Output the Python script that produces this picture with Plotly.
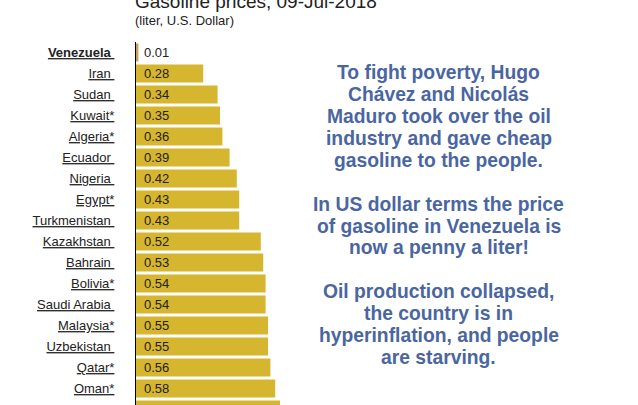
import plotly.graph_objects as go

countries = ["Venezuela", "Iran", "Sudan", "Kuwait*", "Algeria*", "Ecuador", "Nigeria",
             "Egypt*", "Turkmenistan", "Kazakhstan", "Bahrain", "Bolivia*", "Saudi Arabia",
             "Malaysia*", "Uzbekistan", "Qatar*", "Oman*", "Angola"]
prices = [0.01, 0.28, 0.34, 0.35, 0.36, 0.39, 0.42, 0.43, 0.43, 0.52, 0.53, 0.54, 0.54,
          0.55, 0.55, 0.56, 0.58, 0.60]
value_labels = ["%.2f" % v for v in prices]
highlight = "Venezuela"

title_text = "Gasoline prices, 09-Jul-2018"
subtitle_text = "(liter, U.S. Dollar)"
note_lines = ["To fight poverty, Hugo", "Chávez and Nicolás", "Maduro took over the oil",
              "industry and gave cheap", "gasoline to the people.", "",
              "In US dollar terms the price", "of gasoline in Venezuela is",
              "now a penny a liter!", "",
              "Oil production collapsed,", "the country is in",
              "hyperinflation, and people", "are starving."]

FONT = "Liberation Sans, Arial, sans-serif"
GOLD = "#D7B62F"
TAN = "#C8A060"
NOTE_COLOR = "#4A66A0"

W, H = 638, 405
L, T = 136, 42
PLOT_H = H - T
ROW = 21


def paper_y(py):
    return 1 - (py - T) / PLOT_H


idx = list(range(len(countries)))
ticktext = []
for c in countries:
    lab = c if c.endswith("*") else c + "\u00a0"
    lab = "<u>" + lab + "</u>"
    if c == highlight:
        lab = "<b>" + lab + "</b>"
    ticktext.append(lab)

colors = [TAN if c == highlight else GOLD for c in countries]

fig = go.Figure()
fig.add_trace(go.Bar(
    x=prices, y=idx, orientation="h",
    marker=dict(color=colors, line=dict(width=0)),
    hoverinfo="skip",
))

annotations = []
for i, t in zip(idx, value_labels):
    annotations.append(dict(x=0, y=i, xref="x", yref="y", text=t, showarrow=False,
                            xanchor="left", yanchor="middle", xshift=6,
                            font=dict(family=FONT, size=13, color="#222222")))

annotations.append(dict(x=0, y=paper_y(1), xref="paper", yref="paper", text=title_text,
                        showarrow=False, xanchor="left", yanchor="middle",
                        xshift=-3, font=dict(family=FONT, size=19, color="#222222")))
annotations.append(dict(x=0, y=paper_y(20), xref="paper", yref="paper", text=subtitle_text,
                        showarrow=False, xanchor="left", yanchor="middle",
                        xshift=-3, font=dict(family=FONT, size=13, color="#222222")))

note_x = (438.5 - L) / (W - L)
for k, line in enumerate(note_lines):
    if not line:
        continue
    annotations.append(dict(x=note_x, y=paper_y(72.7 + k * 21.9), xref="paper", yref="paper",
                            text=line, showarrow=False, xanchor="center", yanchor="middle",
                            font=dict(family=FONT, size=19.3, color=NOTE_COLOR, weight="bold")))

fig.update_layout(
    width=W, height=H,
    margin=dict(l=L, r=0, t=T, b=0),
    paper_bgcolor="white", plot_bgcolor="white",
    bargap=0.14,
    showlegend=False,
    annotations=annotations,
    xaxis=dict(range=[0, (W - L) / 240], visible=False, fixedrange=True),
    yaxis=dict(range=[-0.5 + PLOT_H / ROW, -0.5], tickvals=idx, ticktext=ticktext,
               showgrid=False, zeroline=False, ticks="", ticklabelstandoff=18,
               showline=True, linecolor="black", linewidth=1,
               tickfont=dict(family=FONT, size=13, color="#222222"), fixedrange=True),
)

fig.write_html("out.html")
